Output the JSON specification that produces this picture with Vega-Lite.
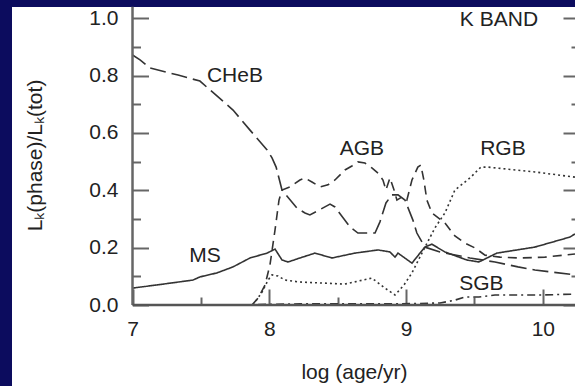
{
  "$schema": "https://vega.github.io/schema/vega-lite/v6.json",
  "width": 563,
  "height": 379,
  "autosize": {"type": "none"},
  "padding": {"left": 12, "top": 7, "right": 0, "bottom": 0},
  "background": "#0c0c5e",
  "config": {
    "view": {"fill": "white", "stroke": null},
    "font": "Liberation Sans",
    "axis": {
      "grid": false,
      "domain": false,
      "labelFont": "Liberation Sans",
      "labelFontSize": 21,
      "labelColor": "#222222",
      "titleFont": "Liberation Sans",
      "titleFontSize": 21,
      "titleFontWeight": "normal",
      "titleColor": "#222222",
      "tickColor": "#666666",
      "tickWidth": 2
    }
  },
  "datasets": {
    "curves": [
      {"phase": "MS", "logage": 7.0, "frac": 0.059},
      {"phase": "MS", "logage": 7.179, "frac": 0.07},
      {"phase": "MS", "logage": 7.442, "frac": 0.087},
      {"phase": "MS", "logage": 7.493, "frac": 0.098},
      {"phase": "MS", "logage": 7.618, "frac": 0.112},
      {"phase": "MS", "logage": 7.735, "frac": 0.133},
      {"phase": "MS", "logage": 7.859, "frac": 0.164},
      {"phase": "MS", "logage": 7.984, "frac": 0.181},
      {"phase": "MS", "logage": 8.042, "frac": 0.195},
      {"phase": "MS", "logage": 8.093, "frac": 0.157},
      {"phase": "MS", "logage": 8.137, "frac": 0.15},
      {"phase": "MS", "logage": 8.224, "frac": 0.164},
      {"phase": "MS", "logage": 8.334, "frac": 0.181},
      {"phase": "MS", "logage": 8.458, "frac": 0.164},
      {"phase": "MS", "logage": 8.626, "frac": 0.181},
      {"phase": "MS", "logage": 8.795, "frac": 0.192},
      {"phase": "MS", "logage": 8.882, "frac": 0.185},
      {"phase": "MS", "logage": 8.919, "frac": 0.167},
      {"phase": "MS", "logage": 8.941, "frac": 0.181},
      {"phase": "MS", "logage": 9.043, "frac": 0.146},
      {"phase": "MS", "logage": 9.137, "frac": 0.202},
      {"phase": "MS", "logage": 9.189, "frac": 0.212},
      {"phase": "MS", "logage": 9.284, "frac": 0.185},
      {"phase": "MS", "logage": 9.444, "frac": 0.157},
      {"phase": "MS", "logage": 9.532, "frac": 0.15},
      {"phase": "MS", "logage": 9.664, "frac": 0.181},
      {"phase": "MS", "logage": 9.942, "frac": 0.202},
      {"phase": "MS", "logage": 10.198, "frac": 0.237},
      {"phase": "MS", "logage": 10.235, "frac": 0.248},

      {"phase": "CHeB", "logage": 7.0, "frac": 0.872},
      {"phase": "CHeB", "logage": 7.055, "frac": 0.855},
      {"phase": "CHeB", "logage": 7.128, "frac": 0.827},
      {"phase": "CHeB", "logage": 7.333, "frac": 0.802},
      {"phase": "CHeB", "logage": 7.493, "frac": 0.781},
      {"phase": "CHeB", "logage": 7.735, "frac": 0.68},
      {"phase": "CHeB", "logage": 7.859, "frac": 0.61},
      {"phase": "CHeB", "logage": 7.984, "frac": 0.541},
      {"phase": "CHeB", "logage": 8.02, "frac": 0.513},
      {"phase": "CHeB", "logage": 8.05, "frac": 0.481},
      {"phase": "CHeB", "logage": 8.093, "frac": 0.401},
      {"phase": "CHeB", "logage": 8.202, "frac": 0.338},
      {"phase": "CHeB", "logage": 8.261, "frac": 0.321},
      {"phase": "CHeB", "logage": 8.297, "frac": 0.314},
      {"phase": "CHeB", "logage": 8.444, "frac": 0.352},
      {"phase": "CHeB", "logage": 8.48, "frac": 0.342},
      {"phase": "CHeB", "logage": 8.59, "frac": 0.272},
      {"phase": "CHeB", "logage": 8.648, "frac": 0.251},
      {"phase": "CHeB", "logage": 8.773, "frac": 0.251},
      {"phase": "CHeB", "logage": 8.809, "frac": 0.29},
      {"phase": "CHeB", "logage": 8.853, "frac": 0.356},
      {"phase": "CHeB", "logage": 8.896, "frac": 0.384},
      {"phase": "CHeB", "logage": 8.941, "frac": 0.384},
      {"phase": "CHeB", "logage": 8.992, "frac": 0.366},
      {"phase": "CHeB", "logage": 9.05, "frac": 0.296},
      {"phase": "CHeB", "logage": 9.079, "frac": 0.251},
      {"phase": "CHeB", "logage": 9.137, "frac": 0.202},
      {"phase": "CHeB", "logage": 9.248, "frac": 0.185},
      {"phase": "CHeB", "logage": 9.467, "frac": 0.164},
      {"phase": "CHeB", "logage": 9.65, "frac": 0.15},
      {"phase": "CHeB", "logage": 9.818, "frac": 0.133},
      {"phase": "CHeB", "logage": 9.942, "frac": 0.122},
      {"phase": "CHeB", "logage": 10.235, "frac": 0.105},

      {"phase": "AGB", "logage": 7.873, "frac": 0.0},
      {"phase": "AGB", "logage": 7.918, "frac": 0.024},
      {"phase": "AGB", "logage": 7.969, "frac": 0.07},
      {"phase": "AGB", "logage": 8.005, "frac": 0.14},
      {"phase": "AGB", "logage": 8.042, "frac": 0.262},
      {"phase": "AGB", "logage": 8.071, "frac": 0.366},
      {"phase": "AGB", "logage": 8.093, "frac": 0.401},
      {"phase": "AGB", "logage": 8.151, "frac": 0.412},
      {"phase": "AGB", "logage": 8.224, "frac": 0.436},
      {"phase": "AGB", "logage": 8.261, "frac": 0.443},
      {"phase": "AGB", "logage": 8.312, "frac": 0.429},
      {"phase": "AGB", "logage": 8.371, "frac": 0.412},
      {"phase": "AGB", "logage": 8.429, "frac": 0.419},
      {"phase": "AGB", "logage": 8.48, "frac": 0.436},
      {"phase": "AGB", "logage": 8.553, "frac": 0.471},
      {"phase": "AGB", "logage": 8.604, "frac": 0.485},
      {"phase": "AGB", "logage": 8.648, "frac": 0.499},
      {"phase": "AGB", "logage": 8.699, "frac": 0.495},
      {"phase": "AGB", "logage": 8.75, "frac": 0.478},
      {"phase": "AGB", "logage": 8.795, "frac": 0.46},
      {"phase": "AGB", "logage": 8.831, "frac": 0.436},
      {"phase": "AGB", "logage": 8.853, "frac": 0.401},
      {"phase": "AGB", "logage": 8.882, "frac": 0.443},
      {"phase": "AGB", "logage": 8.912, "frac": 0.401},
      {"phase": "AGB", "logage": 8.933, "frac": 0.366},
      {"phase": "AGB", "logage": 8.97, "frac": 0.377},
      {"phase": "AGB", "logage": 9.006, "frac": 0.366},
      {"phase": "AGB", "logage": 9.043, "frac": 0.436},
      {"phase": "AGB", "logage": 9.086, "frac": 0.481},
      {"phase": "AGB", "logage": 9.108, "frac": 0.488},
      {"phase": "AGB", "logage": 9.13, "frac": 0.436},
      {"phase": "AGB", "logage": 9.152, "frac": 0.366},
      {"phase": "AGB", "logage": 9.189, "frac": 0.321},
      {"phase": "AGB", "logage": 9.284, "frac": 0.286},
      {"phase": "AGB", "logage": 9.357, "frac": 0.241},
      {"phase": "AGB", "logage": 9.43, "frac": 0.216},
      {"phase": "AGB", "logage": 9.504, "frac": 0.199},
      {"phase": "AGB", "logage": 9.577, "frac": 0.174},
      {"phase": "AGB", "logage": 9.686, "frac": 0.167},
      {"phase": "AGB", "logage": 9.833, "frac": 0.164},
      {"phase": "AGB", "logage": 10.015, "frac": 0.167},
      {"phase": "AGB", "logage": 10.235, "frac": 0.178},

      {"phase": "RGB", "logage": 7.881, "frac": 0.0},
      {"phase": "RGB", "logage": 7.947, "frac": 0.045},
      {"phase": "RGB", "logage": 7.991, "frac": 0.087},
      {"phase": "RGB", "logage": 8.02, "frac": 0.105},
      {"phase": "RGB", "logage": 8.064, "frac": 0.101},
      {"phase": "RGB", "logage": 8.115, "frac": 0.087},
      {"phase": "RGB", "logage": 8.224, "frac": 0.08},
      {"phase": "RGB", "logage": 8.371, "frac": 0.077},
      {"phase": "RGB", "logage": 8.553, "frac": 0.073},
      {"phase": "RGB", "logage": 8.75, "frac": 0.094},
      {"phase": "RGB", "logage": 8.846, "frac": 0.059},
      {"phase": "RGB", "logage": 8.919, "frac": 0.035},
      {"phase": "RGB", "logage": 8.985, "frac": 0.07},
      {"phase": "RGB", "logage": 9.043, "frac": 0.112},
      {"phase": "RGB", "logage": 9.116, "frac": 0.181},
      {"phase": "RGB", "logage": 9.211, "frac": 0.269},
      {"phase": "RGB", "logage": 9.284, "frac": 0.321},
      {"phase": "RGB", "logage": 9.357, "frac": 0.401},
      {"phase": "RGB", "logage": 9.467, "frac": 0.443},
      {"phase": "RGB", "logage": 9.547, "frac": 0.481},
      {"phase": "RGB", "logage": 9.598, "frac": 0.481},
      {"phase": "RGB", "logage": 9.942, "frac": 0.464},
      {"phase": "RGB", "logage": 10.235, "frac": 0.446},

      {"phase": "SGB", "logage": 7.918, "frac": 0.002},
      {"phase": "SGB", "logage": 8.224, "frac": 0.004},
      {"phase": "SGB", "logage": 8.956, "frac": 0.004},
      {"phase": "SGB", "logage": 9.248, "frac": 0.007},
      {"phase": "SGB", "logage": 9.357, "frac": 0.017},
      {"phase": "SGB", "logage": 9.43, "frac": 0.028},
      {"phase": "SGB", "logage": 9.532, "frac": 0.028},
      {"phase": "SGB", "logage": 9.65, "frac": 0.035},
      {"phase": "SGB", "logage": 9.993, "frac": 0.035},
      {"phase": "SGB", "logage": 10.235, "frac": 0.038}
    ],
    "vline": [{"x": 7, "x2": 7, "y": 0, "y2": 1.04}],
    "hline": [{"x": 7, "x2": 10.235, "y": 0, "y2": 0}],
    "labels": [
      {"logage": 7.749, "frac": 0.799, "text": "CHeB"},
      {"logage": 7.53, "frac": 0.171, "text": "MS"},
      {"logage": 8.677, "frac": 0.544, "text": "AGB"},
      {"logage": 9.708, "frac": 0.544, "text": "RGB"},
      {"logage": 9.551, "frac": 0.075, "text": "SGB"},
      {"logage": 9.679, "frac": 0.994, "text": "K BAND"}
    ]
  },
  "layer": [
    {
      "data": {"name": "curves"},
      "mark": {"type": "line", "strokeWidth": 1.6, "color": "#333333"},
      "encoding": {
        "x": {
          "field": "logage", "type": "quantitative",
          "scale": {"domain": [6.119, 10.235], "nice": false, "zero": false},
          "axis": {"orient": "bottom", "offset": -81, "values": [7, 8, 9, 10], "format": "d", "tickSize": -16, "labelPadding": 29.5, "title": "log (age/yr)", "titleX": 342, "titleY": 67, "titleBaseline": "middle", "titleAlign": "center"}
        },
        "y": {
          "field": "frac", "type": "quantitative",
          "scale": {"domain": [-0.2825, 1.0394], "nice": false, "zero": false},
          "axis": {"orient": "left", "offset": -120.5, "values": [0, 0.2, 0.4, 0.6, 0.8, 1.0], "format": ".1f", "tickSize": -16, "labelPadding": 30.5, "title": "Lₖ(phase)/Lₖ(tot)", "titleX": -97.5, "titleY": 148, "titleAngle": -90, "titleBaseline": "middle", "titleAlign": "center"}
        },
        "strokeDash": {
          "field": "phase", "type": "nominal",
          "scale": {"domain": ["MS", "CHeB", "AGB", "RGB", "SGB"], "range": [[1, 0], [16, 6], [9, 6], [2, 3], [8, 4, 2, 4]]},
          "legend": null
        }
      }
    },
    {
      "data": {"name": "vline"},
      "mark": {"type": "rule", "color": "#666666", "strokeWidth": 2.5},
      "encoding": {
        "x": {"field": "x", "type": "quantitative", "axis": {"orient": "bottom", "offset": -81, "values": [7.5, 8.5, 9.5], "labels": false, "tickSize": -8, "title": null}},
        "x2": {"field": "x2"},
        "y": {"field": "y", "type": "quantitative", "axis": {"orient": "left", "offset": -120.5, "values": [0.1, 0.3, 0.5, 0.7, 0.9], "labels": false, "tickSize": -8, "title": null}},
        "y2": {"field": "y2"}
      }
    },
    {
      "data": {"name": "hline"},
      "mark": {"type": "rule", "color": "#555555", "strokeWidth": 2.5},
      "encoding": {
        "x": {"field": "x", "type": "quantitative", "axis": null},
        "x2": {"field": "x2"},
        "y": {"field": "y", "type": "quantitative", "axis": {"orient": "right", "offset": 4, "values": [0.1, 0.3, 0.5, 0.7, 0.9], "labels": false, "tickSize": -8, "title": null}},
        "y2": {"field": "y2"}
      }
    },
    {
      "data": {"name": "labels"},
      "mark": {"type": "text", "font": "Liberation Sans", "fontSize": 21, "color": "#222222", "align": "center", "baseline": "middle"},
      "encoding": {
        "x": {"field": "logage", "type": "quantitative", "axis": null},
        "y": {"field": "frac", "type": "quantitative", "axis": {"orient": "right", "offset": 4, "values": [0, 0.2, 0.4, 0.6, 0.8, 1.0], "labels": false, "tickSize": -16, "title": null}},
        "text": {"field": "text", "type": "nominal"}
      }
    }
  ],
  "resolve": {"axis": {"x": "independent", "y": "independent"}}
}
